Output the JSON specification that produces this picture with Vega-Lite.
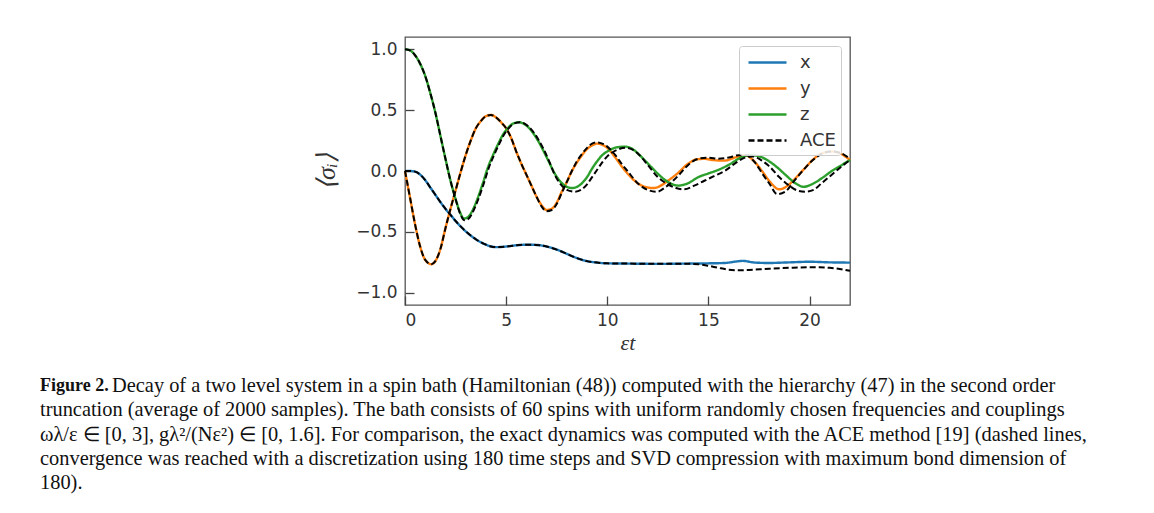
{
  "$schema": "https://vega.github.io/schema/vega-lite/v6.json",
  "padding": {"left": 40, "top": 36, "right": 10, "bottom": 10},
  "background": "white",
  "spacing": 20,
  "datasets": {
    "curves": [
      {"s":"x","c":"x","t":0,"v":0},{"s":"x","c":"x","t":0.25,"v":0},{"s":"x","c":"x","t":0.5,"v":-0.005},{"s":"x","c":"x","t":0.75,"v":-0.03},{"s":"x","c":"x","t":1.0,"v":-0.075},{"s":"x","c":"x","t":1.25,"v":-0.135},{"s":"x","c":"x","t":1.5,"v":-0.195},{"s":"x","c":"x","t":1.75,"v":-0.255},{"s":"x","c":"x","t":2.0,"v":-0.31},{"s":"x","c":"x","t":2.25,"v":-0.36},{"s":"x","c":"x","t":2.5,"v":-0.41},{"s":"x","c":"x","t":2.75,"v":-0.455},{"s":"x","c":"x","t":3.0,"v":-0.495},{"s":"x","c":"x","t":3.25,"v":-0.53},{"s":"x","c":"x","t":3.5,"v":-0.56},{"s":"x","c":"x","t":3.75,"v":-0.585},{"s":"x","c":"x","t":4.0,"v":-0.605},{"s":"x","c":"x","t":4.25,"v":-0.62},{"s":"x","c":"x","t":4.5,"v":-0.625},{"s":"x","c":"x","t":5.0,"v":-0.62},{"s":"x","c":"x","t":5.5,"v":-0.61},{"s":"x","c":"x","t":6.0,"v":-0.605},{"s":"x","c":"x","t":6.5,"v":-0.607},{"s":"x","c":"x","t":7.0,"v":-0.62},{"s":"x","c":"x","t":7.5,"v":-0.645},{"s":"x","c":"x","t":8.0,"v":-0.68},{"s":"x","c":"x","t":8.5,"v":-0.715},{"s":"x","c":"x","t":9.0,"v":-0.74},{"s":"x","c":"x","t":9.5,"v":-0.752},{"s":"x","c":"x","t":10.0,"v":-0.758},{"s":"x","c":"x","t":11.0,"v":-0.76},{"s":"x","c":"x","t":12.0,"v":-0.762},{"s":"x","c":"x","t":13.0,"v":-0.762},{"s":"x","c":"x","t":14.0,"v":-0.76},{"s":"x","c":"x","t":15.0,"v":-0.758},{"s":"x","c":"x","t":15.8,"v":-0.755},{"s":"x","c":"x","t":16.7,"v":-0.738},{"s":"x","c":"x","t":17.3,"v":-0.752},{"s":"x","c":"x","t":18.0,"v":-0.755},{"s":"x","c":"x","t":19.0,"v":-0.75},{"s":"x","c":"x","t":20.0,"v":-0.745},{"s":"x","c":"x","t":21.0,"v":-0.75},{"s":"x","c":"x","t":22.0,"v":-0.752},

      {"s":"y","c":"y","t":0,"v":0},{"s":"y","c":"y","t":0.25,"v":-0.22},{"s":"y","c":"y","t":0.5,"v":-0.44},{"s":"y","c":"y","t":0.75,"v":-0.62},{"s":"y","c":"y","t":1.0,"v":-0.73},{"s":"y","c":"y","t":1.3,"v":-0.765},{"s":"y","c":"y","t":1.5,"v":-0.74},{"s":"y","c":"y","t":1.75,"v":-0.64},{"s":"y","c":"y","t":2.0,"v":-0.47},{"s":"y","c":"y","t":2.25,"v":-0.31},{"s":"y","c":"y","t":2.5,"v":-0.16},{"s":"y","c":"y","t":2.75,"v":-0.01},{"s":"y","c":"y","t":3.0,"v":0.13},{"s":"y","c":"y","t":3.25,"v":0.25},{"s":"y","c":"y","t":3.5,"v":0.35},{"s":"y","c":"y","t":3.75,"v":0.41},{"s":"y","c":"y","t":4.0,"v":0.45},{"s":"y","c":"y","t":4.25,"v":0.46},{"s":"y","c":"y","t":4.5,"v":0.44},{"s":"y","c":"y","t":4.75,"v":0.4},{"s":"y","c":"y","t":5.0,"v":0.35},{"s":"y","c":"y","t":5.25,"v":0.27},{"s":"y","c":"y","t":5.5,"v":0.16},{"s":"y","c":"y","t":5.75,"v":0.06},{"s":"y","c":"y","t":6.0,"v":-0.03},{"s":"y","c":"y","t":6.25,"v":-0.12},{"s":"y","c":"y","t":6.5,"v":-0.21},{"s":"y","c":"y","t":6.75,"v":-0.28},{"s":"y","c":"y","t":7.0,"v":-0.32},{"s":"y","c":"y","t":7.25,"v":-0.31},{"s":"y","c":"y","t":7.5,"v":-0.26},{"s":"y","c":"y","t":7.75,"v":-0.17},{"s":"y","c":"y","t":8.0,"v":-0.09},{"s":"y","c":"y","t":8.25,"v":0.0},{"s":"y","c":"y","t":8.5,"v":0.07},{"s":"y","c":"y","t":8.75,"v":0.13},{"s":"y","c":"y","t":9.0,"v":0.18},{"s":"y","c":"y","t":9.25,"v":0.21},{"s":"y","c":"y","t":9.5,"v":0.225},{"s":"y","c":"y","t":9.75,"v":0.215},{"s":"y","c":"y","t":10.0,"v":0.19},{"s":"y","c":"y","t":10.4,"v":0.11},{"s":"y","c":"y","t":10.75,"v":0.03},{"s":"y","c":"y","t":11.0,"v":-0.02},{"s":"y","c":"y","t":11.5,"v":-0.1},{"s":"y","c":"y","t":12.0,"v":-0.135},{"s":"y","c":"y","t":12.3,"v":-0.14},{"s":"y","c":"y","t":12.75,"v":-0.11},{"s":"y","c":"y","t":13.0,"v":-0.08},{"s":"y","c":"y","t":13.4,"v":-0.03},{"s":"y","c":"y","t":14.0,"v":0.06},{"s":"y","c":"y","t":14.4,"v":0.095},{"s":"y","c":"y","t":14.8,"v":0.1},{"s":"y","c":"y","t":15.2,"v":0.09},{"s":"y","c":"y","t":15.8,"v":0.085},{"s":"y","c":"y","t":16.3,"v":0.11},{"s":"y","c":"y","t":16.8,"v":0.13},{"s":"y","c":"y","t":17.2,"v":0.09},{"s":"y","c":"y","t":17.65,"v":0.0},{"s":"y","c":"y","t":18.0,"v":-0.08},{"s":"y","c":"y","t":18.5,"v":-0.15},{"s":"y","c":"y","t":19.0,"v":-0.11},{"s":"y","c":"y","t":19.3,"v":-0.06},{"s":"y","c":"y","t":19.75,"v":0.02},{"s":"y","c":"y","t":20.15,"v":0.09},{"s":"y","c":"y","t":20.6,"v":0.145},{"s":"y","c":"y","t":21.1,"v":0.16},{"s":"y","c":"y","t":21.5,"v":0.145},{"s":"y","c":"y","t":22.0,"v":0.09},

      {"s":"z","c":"z","t":0,"v":1.0},{"s":"z","c":"z","t":0.25,"v":0.99},{"s":"z","c":"z","t":0.5,"v":0.95},{"s":"z","c":"z","t":0.75,"v":0.88},{"s":"z","c":"z","t":1.0,"v":0.78},{"s":"z","c":"z","t":1.25,"v":0.64},{"s":"z","c":"z","t":1.5,"v":0.48},{"s":"z","c":"z","t":1.75,"v":0.29},{"s":"z","c":"z","t":2.0,"v":0.1},{"s":"z","c":"z","t":2.25,"v":-0.08},{"s":"z","c":"z","t":2.5,"v":-0.23},{"s":"z","c":"z","t":2.75,"v":-0.35},{"s":"z","c":"z","t":2.9,"v":-0.39},{"s":"z","c":"z","t":3.1,"v":-0.38},{"s":"z","c":"z","t":3.35,"v":-0.32},{"s":"z","c":"z","t":3.6,"v":-0.22},{"s":"z","c":"z","t":3.85,"v":-0.1},{"s":"z","c":"z","t":4.1,"v":0.03},{"s":"z","c":"z","t":4.35,"v":0.13},{"s":"z","c":"z","t":4.6,"v":0.22},{"s":"z","c":"z","t":4.85,"v":0.3},{"s":"z","c":"z","t":5.1,"v":0.355},{"s":"z","c":"z","t":5.35,"v":0.39},{"s":"z","c":"z","t":5.65,"v":0.4},{"s":"z","c":"z","t":5.9,"v":0.385},{"s":"z","c":"z","t":6.2,"v":0.34},{"s":"z","c":"z","t":6.5,"v":0.27},{"s":"z","c":"z","t":6.8,"v":0.18},{"s":"z","c":"z","t":7.1,"v":0.08},{"s":"z","c":"z","t":7.4,"v":-0.02},{"s":"z","c":"z","t":7.7,"v":-0.09},{"s":"z","c":"z","t":8.0,"v":-0.13},{"s":"z","c":"z","t":8.25,"v":-0.14},{"s":"z","c":"z","t":8.5,"v":-0.13},{"s":"z","c":"z","t":8.75,"v":-0.1},{"s":"z","c":"z","t":9.0,"v":-0.05},{"s":"z","c":"z","t":9.25,"v":0.02},{"s":"z","c":"z","t":9.5,"v":0.08},{"s":"z","c":"z","t":9.75,"v":0.13},{"s":"z","c":"z","t":10.0,"v":0.16},{"s":"z","c":"z","t":10.5,"v":0.195},{"s":"z","c":"z","t":10.9,"v":0.2},{"s":"z","c":"z","t":11.25,"v":0.18},{"s":"z","c":"z","t":11.6,"v":0.13},{"s":"z","c":"z","t":11.9,"v":0.08},{"s":"z","c":"z","t":12.25,"v":0.02},{"s":"z","c":"z","t":12.55,"v":-0.03},{"s":"z","c":"z","t":13.0,"v":-0.09},{"s":"z","c":"z","t":13.5,"v":-0.12},{"s":"z","c":"z","t":14.0,"v":-0.1},{"s":"z","c":"z","t":14.5,"v":-0.05},{"s":"z","c":"z","t":15.0,"v":-0.02},{"s":"z","c":"z","t":15.5,"v":0.01},{"s":"z","c":"z","t":16.0,"v":0.05},{"s":"z","c":"z","t":16.6,"v":0.11},{"s":"z","c":"z","t":17.0,"v":0.13},{"s":"z","c":"z","t":17.4,"v":0.125},{"s":"z","c":"z","t":18.0,"v":0.08},{"s":"z","c":"z","t":18.4,"v":0.03},{"s":"z","c":"z","t":18.8,"v":-0.03},{"s":"z","c":"z","t":19.3,"v":-0.1},{"s":"z","c":"z","t":19.7,"v":-0.13},{"s":"z","c":"z","t":20.1,"v":-0.11},{"s":"z","c":"z","t":20.6,"v":-0.06},{"s":"z","c":"z","t":21.1,"v":0.0},{"s":"z","c":"z","t":21.6,"v":0.05},{"s":"z","c":"z","t":22.0,"v":0.09},

      {"s":"ACE","c":"x","t":0,"v":0},{"s":"ACE","c":"x","t":0.25,"v":0},{"s":"ACE","c":"x","t":0.5,"v":-0.005},{"s":"ACE","c":"x","t":0.75,"v":-0.03},{"s":"ACE","c":"x","t":1.0,"v":-0.075},{"s":"ACE","c":"x","t":1.25,"v":-0.135},{"s":"ACE","c":"x","t":1.5,"v":-0.195},{"s":"ACE","c":"x","t":1.75,"v":-0.255},{"s":"ACE","c":"x","t":2.0,"v":-0.31},{"s":"ACE","c":"x","t":2.25,"v":-0.36},{"s":"ACE","c":"x","t":2.5,"v":-0.41},{"s":"ACE","c":"x","t":2.75,"v":-0.455},{"s":"ACE","c":"x","t":3.0,"v":-0.495},{"s":"ACE","c":"x","t":3.25,"v":-0.53},{"s":"ACE","c":"x","t":3.5,"v":-0.56},{"s":"ACE","c":"x","t":3.75,"v":-0.585},{"s":"ACE","c":"x","t":4.0,"v":-0.605},{"s":"ACE","c":"x","t":4.25,"v":-0.62},{"s":"ACE","c":"x","t":4.5,"v":-0.625},{"s":"ACE","c":"x","t":5.0,"v":-0.62},{"s":"ACE","c":"x","t":5.5,"v":-0.61},{"s":"ACE","c":"x","t":6.0,"v":-0.605},{"s":"ACE","c":"x","t":6.5,"v":-0.607},{"s":"ACE","c":"x","t":7.0,"v":-0.62},{"s":"ACE","c":"x","t":7.5,"v":-0.645},{"s":"ACE","c":"x","t":8.0,"v":-0.68},{"s":"ACE","c":"x","t":8.5,"v":-0.715},{"s":"ACE","c":"x","t":9.0,"v":-0.74},{"s":"ACE","c":"x","t":9.5,"v":-0.752},{"s":"ACE","c":"x","t":10.0,"v":-0.758},{"s":"ACE","c":"x","t":11.0,"v":-0.76},{"s":"ACE","c":"x","t":12.0,"v":-0.762},{"s":"ACE","c":"x","t":13.0,"v":-0.762},{"s":"ACE","c":"x","t":14.0,"v":-0.762},{"s":"ACE","c":"x","t":14.5,"v":-0.765},{"s":"ACE","c":"x","t":15.0,"v":-0.778},{"s":"ACE","c":"x","t":15.5,"v":-0.795},{"s":"ACE","c":"x","t":16.0,"v":-0.81},{"s":"ACE","c":"x","t":16.5,"v":-0.815},{"s":"ACE","c":"x","t":17.0,"v":-0.812},{"s":"ACE","c":"x","t":18.0,"v":-0.802},{"s":"ACE","c":"x","t":19.0,"v":-0.795},{"s":"ACE","c":"x","t":20.0,"v":-0.79},{"s":"ACE","c":"x","t":20.5,"v":-0.79},{"s":"ACE","c":"x","t":21.0,"v":-0.795},{"s":"ACE","c":"x","t":21.5,"v":-0.805},{"s":"ACE","c":"x","t":22.0,"v":-0.82},

      {"s":"ACE","c":"y","t":0,"v":0},{"s":"ACE","c":"y","t":0.25,"v":-0.22},{"s":"ACE","c":"y","t":0.5,"v":-0.44},{"s":"ACE","c":"y","t":0.75,"v":-0.62},{"s":"ACE","c":"y","t":1.0,"v":-0.73},{"s":"ACE","c":"y","t":1.3,"v":-0.765},{"s":"ACE","c":"y","t":1.5,"v":-0.74},{"s":"ACE","c":"y","t":1.75,"v":-0.64},{"s":"ACE","c":"y","t":2.0,"v":-0.47},{"s":"ACE","c":"y","t":2.25,"v":-0.31},{"s":"ACE","c":"y","t":2.5,"v":-0.16},{"s":"ACE","c":"y","t":2.75,"v":-0.01},{"s":"ACE","c":"y","t":3.0,"v":0.13},{"s":"ACE","c":"y","t":3.25,"v":0.25},{"s":"ACE","c":"y","t":3.5,"v":0.35},{"s":"ACE","c":"y","t":3.75,"v":0.41},{"s":"ACE","c":"y","t":4.0,"v":0.45},{"s":"ACE","c":"y","t":4.25,"v":0.46},{"s":"ACE","c":"y","t":4.5,"v":0.44},{"s":"ACE","c":"y","t":4.75,"v":0.4},{"s":"ACE","c":"y","t":5.0,"v":0.35},{"s":"ACE","c":"y","t":5.25,"v":0.27},{"s":"ACE","c":"y","t":5.5,"v":0.16},{"s":"ACE","c":"y","t":5.75,"v":0.06},{"s":"ACE","c":"y","t":6.0,"v":-0.03},{"s":"ACE","c":"y","t":6.25,"v":-0.12},{"s":"ACE","c":"y","t":6.5,"v":-0.21},{"s":"ACE","c":"y","t":6.75,"v":-0.29},{"s":"ACE","c":"y","t":7.0,"v":-0.33},{"s":"ACE","c":"y","t":7.25,"v":-0.32},{"s":"ACE","c":"y","t":7.5,"v":-0.27},{"s":"ACE","c":"y","t":7.75,"v":-0.18},{"s":"ACE","c":"y","t":8.0,"v":-0.09},{"s":"ACE","c":"y","t":8.25,"v":0.0},{"s":"ACE","c":"y","t":8.5,"v":0.08},{"s":"ACE","c":"y","t":8.75,"v":0.14},{"s":"ACE","c":"y","t":9.0,"v":0.19},{"s":"ACE","c":"y","t":9.25,"v":0.225},{"s":"ACE","c":"y","t":9.5,"v":0.235},{"s":"ACE","c":"y","t":9.75,"v":0.225},{"s":"ACE","c":"y","t":10.0,"v":0.2},{"s":"ACE","c":"y","t":10.4,"v":0.13},{"s":"ACE","c":"y","t":10.75,"v":0.05},{"s":"ACE","c":"y","t":11.0,"v":0.0},{"s":"ACE","c":"y","t":11.5,"v":-0.1},{"s":"ACE","c":"y","t":12.0,"v":-0.155},{"s":"ACE","c":"y","t":12.45,"v":-0.17},{"s":"ACE","c":"y","t":12.9,"v":-0.13},{"s":"ACE","c":"y","t":13.5,"v":-0.04},{"s":"ACE","c":"y","t":14.0,"v":0.05},{"s":"ACE","c":"y","t":14.5,"v":0.1},{"s":"ACE","c":"y","t":15.0,"v":0.11},{"s":"ACE","c":"y","t":15.5,"v":0.1},{"s":"ACE","c":"y","t":16.0,"v":0.11},{"s":"ACE","c":"y","t":16.5,"v":0.13},{"s":"ACE","c":"y","t":16.9,"v":0.13},{"s":"ACE","c":"y","t":17.3,"v":0.07},{"s":"ACE","c":"y","t":17.7,"v":-0.03},{"s":"ACE","c":"y","t":18.0,"v":-0.1},{"s":"ACE","c":"y","t":18.4,"v":-0.19},{"s":"ACE","c":"y","t":18.8,"v":-0.17},{"s":"ACE","c":"y","t":19.2,"v":-0.09},{"s":"ACE","c":"y","t":19.6,"v":-0.01},{"s":"ACE","c":"y","t":20.1,"v":0.08},{"s":"ACE","c":"y","t":20.6,"v":0.14},{"s":"ACE","c":"y","t":21.1,"v":0.16},{"s":"ACE","c":"y","t":21.5,"v":0.15},{"s":"ACE","c":"y","t":22.0,"v":0.1},

      {"s":"ACE","c":"z","t":0,"v":1.0},{"s":"ACE","c":"z","t":0.25,"v":0.99},{"s":"ACE","c":"z","t":0.5,"v":0.95},{"s":"ACE","c":"z","t":0.75,"v":0.88},{"s":"ACE","c":"z","t":1.0,"v":0.78},{"s":"ACE","c":"z","t":1.25,"v":0.64},{"s":"ACE","c":"z","t":1.5,"v":0.48},{"s":"ACE","c":"z","t":1.75,"v":0.29},{"s":"ACE","c":"z","t":2.0,"v":0.1},{"s":"ACE","c":"z","t":2.25,"v":-0.08},{"s":"ACE","c":"z","t":2.5,"v":-0.23},{"s":"ACE","c":"z","t":2.75,"v":-0.36},{"s":"ACE","c":"z","t":2.95,"v":-0.405},{"s":"ACE","c":"z","t":3.15,"v":-0.39},{"s":"ACE","c":"z","t":3.4,"v":-0.32},{"s":"ACE","c":"z","t":3.65,"v":-0.22},{"s":"ACE","c":"z","t":3.9,"v":-0.1},{"s":"ACE","c":"z","t":4.15,"v":0.03},{"s":"ACE","c":"z","t":4.4,"v":0.13},{"s":"ACE","c":"z","t":4.65,"v":0.22},{"s":"ACE","c":"z","t":4.9,"v":0.3},{"s":"ACE","c":"z","t":5.15,"v":0.355},{"s":"ACE","c":"z","t":5.4,"v":0.39},{"s":"ACE","c":"z","t":5.7,"v":0.4},{"s":"ACE","c":"z","t":5.95,"v":0.385},{"s":"ACE","c":"z","t":6.25,"v":0.34},{"s":"ACE","c":"z","t":6.55,"v":0.27},{"s":"ACE","c":"z","t":6.85,"v":0.18},{"s":"ACE","c":"z","t":7.15,"v":0.07},{"s":"ACE","c":"z","t":7.4,"v":-0.03},{"s":"ACE","c":"z","t":7.7,"v":-0.11},{"s":"ACE","c":"z","t":8.0,"v":-0.155},{"s":"ACE","c":"z","t":8.4,"v":-0.17},{"s":"ACE","c":"z","t":8.75,"v":-0.15},{"s":"ACE","c":"z","t":9.0,"v":-0.11},{"s":"ACE","c":"z","t":9.25,"v":-0.05},{"s":"ACE","c":"z","t":9.5,"v":0.01},{"s":"ACE","c":"z","t":9.75,"v":0.07},{"s":"ACE","c":"z","t":10.0,"v":0.12},{"s":"ACE","c":"z","t":10.5,"v":0.175},{"s":"ACE","c":"z","t":10.9,"v":0.19},{"s":"ACE","c":"z","t":11.25,"v":0.175},{"s":"ACE","c":"z","t":11.6,"v":0.13},{"s":"ACE","c":"z","t":12.0,"v":0.05},{"s":"ACE","c":"z","t":12.5,"v":-0.05},{"s":"ACE","c":"z","t":13.0,"v":-0.11},{"s":"ACE","c":"z","t":13.4,"v":-0.14},{"s":"ACE","c":"z","t":13.8,"v":-0.15},{"s":"ACE","c":"z","t":14.3,"v":-0.12},{"s":"ACE","c":"z","t":14.8,"v":-0.08},{"s":"ACE","c":"z","t":15.3,"v":-0.04},{"s":"ACE","c":"z","t":15.8,"v":0.0},{"s":"ACE","c":"z","t":16.3,"v":0.06},{"s":"ACE","c":"z","t":16.8,"v":0.11},{"s":"ACE","c":"z","t":17.2,"v":0.12},{"s":"ACE","c":"z","t":17.6,"v":0.09},{"s":"ACE","c":"z","t":18.0,"v":0.04},{"s":"ACE","c":"z","t":18.5,"v":-0.05},{"s":"ACE","c":"z","t":19.0,"v":-0.12},{"s":"ACE","c":"z","t":19.4,"v":-0.16},{"s":"ACE","c":"z","t":19.8,"v":-0.17},{"s":"ACE","c":"z","t":20.2,"v":-0.155},{"s":"ACE","c":"z","t":20.6,"v":-0.1},{"s":"ACE","c":"z","t":21.1,"v":-0.03},{"s":"ACE","c":"z","t":21.6,"v":0.04},{"s":"ACE","c":"z","t":22.0,"v":0.09}
    ],
    "caption": [
      {"line": 1, "part": "b", "text": "Figure 2."},
      {"line": 1, "part": "r1", "text": "Decay of a two level system in a spin bath (Hamiltonian (48)) computed with the hierarchy (47) in the second order"},
      {"line": 2, "part": "r", "text": "truncation (average of 2000 samples). The bath consists of 60 spins with uniform randomly chosen frequencies and couplings"},
      {"line": 3, "part": "r", "text": "ωλ/ε ∈ [0, 3], gλ²/(Nε²) ∈ [0, 1.6]. For comparison, the exact dynamics was computed with the ACE method [19] (dashed lines,"},
      {"line": 4, "part": "r", "text": "convergence was reached with a discretization using 180 time steps and SVD compression with maximum bond dimension of"},
      {"line": 5, "part": "r", "text": "180)."}
    ]
  },
  "vconcat": [
    {
      "width": 445,
      "height": 268,
      "data": {"name": "curves"},
      "encoding": {
        "x": {"field": "t", "type": "quantitative", "scale": {"domain": [0, 22], "nice": false, "zero": false},
              "axis": {"values": [0, 5, 10, 15, 20], "format": "d", "title": "εt"}},
        "y": {"field": "v", "type": "quantitative", "scale": {"domain": [-1.1, 1.1], "nice": false},
              "axis": {"values": [-1, -0.5, 0, 0.5, 1], "format": ".1f", "title": "⟨σᵢ⟩"}},
        "color": {"field": "s", "type": "nominal",
                  "scale": {"domain": ["x", "y", "z", "ACE"], "range": ["#1f77b4", "#ff7f0e", "#2ca02c", "#000000"]},
                  "legend": {"title": null}},
        "strokeDash": {"field": "s", "type": "nominal",
                  "scale": {"domain": ["x", "y", "z", "ACE"], "range": [[1, 0], [1, 0], [1, 0], [6, 3]]},
                  "legend": {"title": null}},
        "detail": {"field": "c", "type": "nominal"}
      },
      "layer": [
        {"transform": [{"filter": "datum.s !== 'ACE'"}],
         "mark": {"type": "line", "interpolate": "monotone", "strokeWidth": 2.4}},
        {"transform": [{"filter": "datum.s === 'ACE'"}],
         "mark": {"type": "line", "interpolate": "monotone", "strokeWidth": 2}}
      ]
    },
    {
      "width": 445,
      "height": {"step": 24.3},
      "view": {"stroke": null},
      "data": {"name": "caption"},
      "encoding": {
        "x": {"datum": 0, "type": "quantitative", "scale": {"domain": [365, 810]}, "axis": null},
        "y": {"field": "line", "type": "ordinal", "axis": null},
        "text": {"field": "text"}
      },
      "layer": [
        {"transform": [{"filter": "datum.part === 'b'"}],
         "mark": {"type": "text", "align": "left", "baseline": "middle", "font": "Liberation Serif", "fontSize": 18, "fontWeight": "bold", "color": "#111"}},
        {"transform": [{"filter": "datum.part === 'r1'"}],
         "mark": {"type": "text", "align": "left", "baseline": "middle", "font": "Liberation Serif", "fontSize": 20.4, "color": "#111", "dx": 72}},
        {"transform": [{"filter": "datum.part === 'r'"}],
         "mark": {"type": "text", "align": "left", "baseline": "middle", "font": "Liberation Serif", "fontSize": 20.4, "color": "#111"}}
      ]
    }
  ],
  "config": {
    "view": {"stroke": "#555", "strokeWidth": 1.3},
    "axis": {"grid": false, "domain": false, "tickSize": -9, "tickColor": "#444", "tickWidth": 1.3,
             "labelFont": "DejaVu Sans", "labelFontSize": 17, "labelColor": "#333",
             "titleFont": "Liberation Serif", "titleFontStyle": "italic", "titleFontWeight": "normal", "titleFontSize": 22, "titleColor": "#333"},
    "axisX": {"labelPadding": 16, "titlePadding": 4},
    "axisY": {"labelPadding": 17, "titlePadding": 16, "titleFontSize": 26},
    "legend": {"orient": "top-right", "offset": 9, "padding": 5, "fillColor": "rgba(255,255,255,0.85)", "strokeColor": "#ccc",
               "cornerRadius": 3, "symbolType": "M-1.9,0H1.9", "symbolSize": 400, "symbolStrokeWidth": 2.5, "symbolOffset": 12,
               "labelFont": "DejaVu Sans", "labelFontSize": 18, "labelColor": "#333", "labelOffset": 21, "rowPadding": 5}
  }
}
